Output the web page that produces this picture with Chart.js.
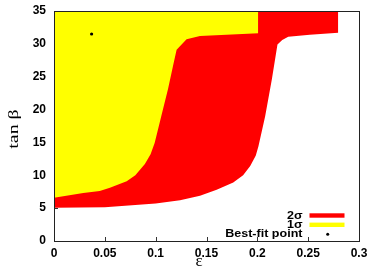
<!DOCTYPE html>
<html>
<head>
<meta charset="utf-8">
<script src="https://cdn.jsdelivr.net/npm/chart.js@4/dist/chart.umd.min.js"></script>
<style>
  html, body { margin: 0; padding: 0; background: #fff; }
  canvas { display: block; }
</style>
</head>
<body>
<canvas id="fitChart" width="382" height="273"></canvas>
<script>
// 2σ region: lower-right edge (ε, tanβ), filled up to the top of the plot
const sigma2Eps = [0, 0.05, 0.1, 0.124, 0.1436, 0.16, 0.1763, 0.186, 0.193, 0.1985, 0.2011, 0.2077, 0.2143, 0.2198, 0.2245, 0.2304, 0.2516, 0.2796, 0.2796];
const sigma2Tan = [5.05, 5.15, 5.7, 6.2, 6.9, 7.8, 8.9, 10.0, 11.4, 13.0, 14.4, 19.0, 24.6, 29.9, 30.6, 31.1, 31.4, 31.7, 35];

// 1σ region: lower-right edge, filled up to the top
const sigma1Eps = [0, 0.0288, 0.045, 0.055, 0.0715, 0.08, 0.0894, 0.095, 0.099, 0.1055, 0.1121, 0.117, 0.1206, 0.1304, 0.1436, 0.2009, 0.2009];
const sigma1Tan = [6.6, 7.3, 7.6, 8.1, 9.1, 10.0, 11.7, 13.2, 14.9, 19.0, 23.1, 26.6, 29.1, 30.7, 31.2, 31.6, 35];

const bestFitEps = [0.037];
const bestFitTan = [31.5];

const xTicks = [0, 0.05, 0.1, 0.15, 0.2, 0.25, 0.3];
const yTicks = [0, 5, 10, 15, 20, 25, 30, 35];

const legendLabels = ["2σ", "1σ", "Best-fit point"];
const legendColors = ["#ff0000", "#ffff00", "#000000"];

function toPoints(xs, ys) {
  return xs.map((x, i) => ({x: x, y: ys[i]}));
}

// inward tick marks, drawn under the filled regions like in the original
const tickPlugin = {
  id: 'inTicks',
  beforeDatasetsDraw(chart) {
    const ctx = chart.ctx;
    const xs = chart.scales.x, ys = chart.scales.y;
    const a = chart.chartArea;
    ctx.save();
    ctx.strokeStyle = '#333';
    ctx.lineWidth = 1;
    ctx.beginPath();
    xTicks.forEach(v => {
      const px = Math.round(xs.getPixelForValue(v)) + 0.5;
      ctx.moveTo(px, a.bottom);
      ctx.lineTo(px, a.bottom - 4);
    });
    yTicks.forEach(v => {
      const py = Math.round(ys.getPixelForValue(v)) + 0.5;
      ctx.moveTo(a.left, py);
      ctx.lineTo(a.left + 4, py);
    });
    ctx.stroke();
    ctx.restore();
  }
};

const framePlugin = {
  id: 'frameAndText',
  afterDatasetsDraw(chart) {
    const ctx = chart.ctx;
    const a = chart.chartArea;
    ctx.save();
    ctx.strokeStyle = '#222';
    ctx.lineWidth = 1;
    ctx.strokeRect(a.left + 0.5, a.top + 0.5, a.right - a.left, a.bottom - a.top);

    // axis titles
    ctx.fillStyle = '#000';
    ctx.textAlign = 'center';
    ctx.textBaseline = 'middle';
    ctx.font = '17px "Liberation Serif", serif';
    ctx.fillText('ε', 199, 262);

    ctx.save();
    ctx.translate(14, 129);
    ctx.rotate(-Math.PI / 2);
    ctx.scale(1.05, 0.8);
    ctx.font = '19px "Liberation Serif", serif';
    ctx.fillText('tan β', 0, 0);
    ctx.restore();

    // key, bottom right inside the frame
    const rowsY = [215.5, 224.8, 234.3];
    ctx.font = 'bold 11px "Liberation Sans", Arial, sans-serif';
    ctx.textAlign = 'right';
    legendLabels.forEach((lab, i) => {
      ctx.save();
      ctx.translate(302.5, rowsY[i]);
      ctx.scale(1.14, 1);
      ctx.fillText(lab, 0, 0);
      ctx.restore();
    });
    for (let i = 0; i < 2; i++) {
      ctx.fillStyle = legendColors[i];
      ctx.fillRect(309.5, rowsY[i] - 2.2, 35, 4.4);
    }
    ctx.fillStyle = legendColors[2];
    ctx.beginPath();
    ctx.arc(327.7, rowsY[2], 1.5, 0, Math.PI * 2);
    ctx.fill();
    ctx.restore();
  }
};

new Chart(document.getElementById('fitChart').getContext('2d'), {
  type: 'scatter',
  data: {
    datasets: [
      {
        label: 'Best-fit point',
        data: toPoints(bestFitEps, bestFitTan),
        backgroundColor: '#000',
        borderColor: '#000',
        pointRadius: 1.6,
        pointBorderWidth: 0
      },
      {
        label: '1σ',
        data: toPoints(sigma1Eps, sigma1Tan),
        showLine: true,
        fill: 'end',
        backgroundColor: '#ffff00',
        borderColor: '#ffff00',
        borderWidth: 0,
        pointRadius: 0,
        tension: 0
      },
      {
        label: '2σ',
        data: toPoints(sigma2Eps, sigma2Tan),
        showLine: true,
        fill: 'end',
        backgroundColor: '#ff0000',
        borderColor: '#ff0000',
        borderWidth: 0,
        pointRadius: 0,
        tension: 0
      }
    ]
  },
  options: {
    responsive: false,
    animation: false,
    devicePixelRatio: 1,
    layout: { padding: { top: 11, right: 23, left: 0, bottom: 0 } },
    plugins: {
      legend: { display: false },
      tooltip: { enabled: false }
    },
    scales: {
      x: {
        type: 'linear',
        min: 0,
        max: 0.3,
        afterFit: s => { s.height = 32; s.paddingLeft = 0; s.paddingRight = 0; },
        afterBuildTicks: s => { s.ticks = xTicks.map(v => ({value: v})); },
        grid: { display: false, drawTicks: false },
        border: { display: false },
        ticks: {
          padding: 5,
          color: '#000',
          font: { family: '"Liberation Sans", Arial, sans-serif', size: 12, weight: 'bold' },
          callback: v => String(v)
        }
      },
      y: {
        min: 0,
        max: 35,
        afterFit: s => { s.width = 54; s.paddingTop = 0; s.paddingBottom = 0; },
        afterBuildTicks: s => { s.ticks = yTicks.map(v => ({value: v})); },
        grid: { display: false, drawTicks: false },
        border: { display: false },
        ticks: {
          padding: 8,
          color: '#000',
          font: { family: '"Liberation Sans", Arial, sans-serif', size: 12, weight: 'bold' }
        }
      }
    }
  },
  plugins: [tickPlugin, framePlugin]
});
</script>
</body>
</html>
